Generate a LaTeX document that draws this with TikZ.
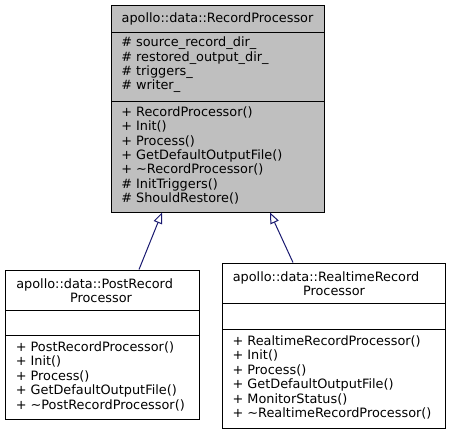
\documentclass[tikz,border=0pt]{standalone}
\usepackage{fontspec}
\setmainfont{DejaVu Sans}
\usetikzlibrary{positioning,calc,fit,arrows.meta}
\definecolor{edgeblue}{HTML}{191970}
\definecolor{basegray}{HTML}{BFBFBF}
\tikzset{
  classbox/.style={draw=black,line width=0.75pt,inner sep=0pt},
  member/.style={anchor=base west,inner sep=0pt},
  title/.style={anchor=base,inner sep=0pt},
  inherit/.style={draw=edgeblue,line width=0.75pt,-{Triangle[open,length=8.25pt,width=6.75pt,fill=white]}}
}
\begin{document}
\begin{tikzpicture}[x=0.75pt,y=-0.75pt,font=\fontsize{9.65}{10.8}\selectfont]
  \useasboundingbox (0,0) rectangle (451,433);

  % base class
  \node[classbox,fill=basegray,fit={(111,5) (324,212)}] (base) {};
  \draw (111,32) -- (324,32);
  \draw (111,101) -- (324,101);
  \node[title] (baseName) at (217.5,22) {apollo::data::RecordProcessor};
  \foreach \txt [count=\i from 0] in {\# source\_record\_dir\_,\# restored\_output\_dir\_,\# triggers\_,\# writer\_}
    \node[member] (baseAttr\i) at (121,46.7+14.4*\i) {\txt};
  \foreach \txt [count=\i from 0] in {+ RecordProcessor(),+ Init(),+ Process(),+ GetDefaultOutputFile(),+ \textasciitilde RecordProcessor(),\# InitTriggers(),\# ShouldRestore()}
    \node[member] (baseOp\i) at (121,116.3+14.4*\i) {\txt};

  % post record processor
  \node[classbox,fill=white,fit={(5,270) (199,419)}] (post) {};
  \draw (5,310) -- (199,310);
  \draw (5,335.5) -- (199,335.5);
  \node[member] (postName1) at (16,288.5) {apollo::data::PostRecord};
  \node[title] (postName2) at (101,302.5) {Processor};
  \foreach \txt [count=\i from 0] in {+ PostRecordProcessor(),+ Init(),+ Process(),+ GetDefaultOutputFile(),+ \textasciitilde PostRecordProcessor()}
    \node[member] (postOp\i) at (15.5,351.5+14.4*\i) {\txt};

  % realtime record processor
  \node[classbox,fill=white,fit={(222,263) (445,428)}] (realtime) {};
  \draw (222,303) -- (445,303);
  \draw (222,329) -- (445,329);
  \node[member] (realtimeName1) at (232.5,281) {apollo::data::RealtimeRecord};
  \node[title] (realtimeName2) at (334,295) {Processor};
  \foreach \txt [count=\i from 0] in {+ RealtimeRecordProcessor(),+ Init(),+ Process(),+ GetDefaultOutputFile(),+ MonitorStatus(),+ \textasciitilde RealtimeRecordProcessor()}
    \node[member] (realtimeOp\i) at (232.3,345.5+14.4*\i) {\txt};

  % inheritance
  \draw[inherit] ($(post.north)+(37,0)$) -- ($(base.south)+(-55.5,0)$);
  \draw[inherit] ($(realtime.north)+(-40.5,0)$) -- ($(base.south)+(52.5,0)$);
\end{tikzpicture}
\end{document}
